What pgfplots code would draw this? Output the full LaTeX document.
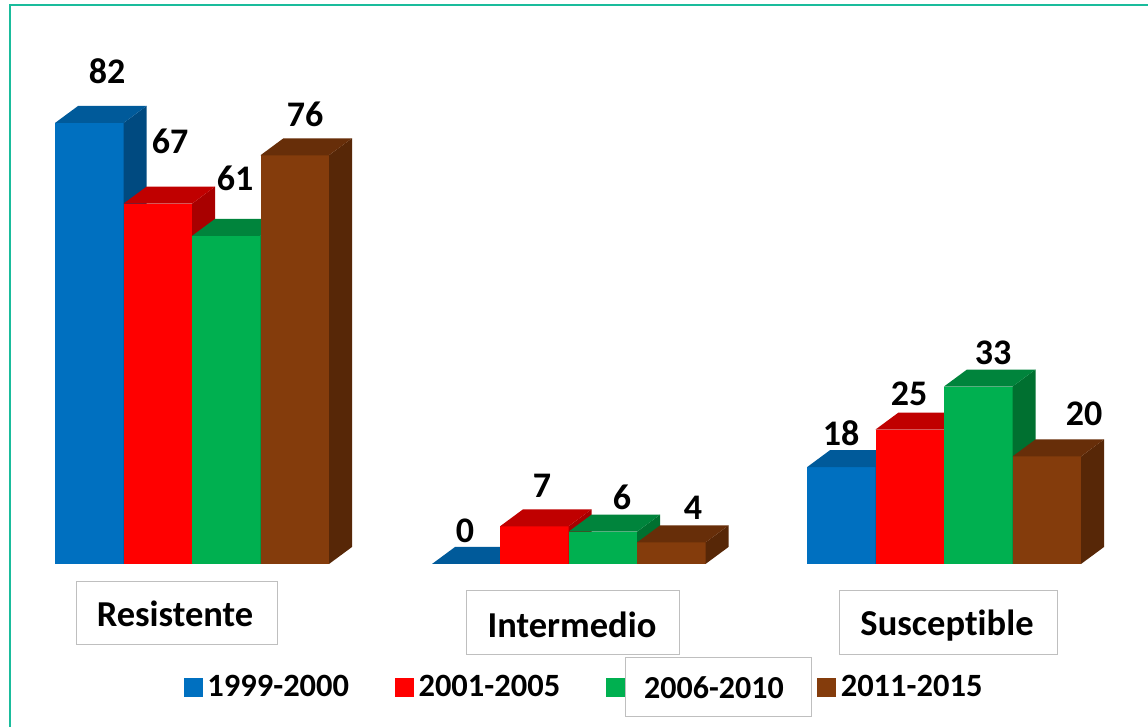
\documentclass[border=0pt]{standalone}
\usepackage{pgfplots}
\pgfplotsset{compat=1.18}
\usepackage{fontspec}
\setmainfont[Ligatures=NoCommon]{Carlito}
\definecolor{bluef}{HTML}{0070C0}\definecolor{bluet}{HTML}{005A9A}\definecolor{blues}{HTML}{004A80}
\definecolor{redf}{HTML}{FF0000}\definecolor{redt}{HTML}{C00000}\definecolor{reds}{HTML}{A80000}
\definecolor{greenf}{HTML}{00B050}\definecolor{greent}{HTML}{00843C}\definecolor{greens}{HTML}{007030}
\definecolor{brownf}{HTML}{843C0C}\definecolor{brownt}{HTML}{672E09}\definecolor{browns}{HTML}{572707}
\definecolor{framec}{HTML}{1ABC9C}
\definecolor{boxc}{HTML}{BFBFBF}
% one 3-D bar: left edge (x), value, colour stem
\newcommand{\tdbar}[3]{%
  \pgfmathsetmacro{\xa}{#1}\pgfmathsetmacro{\xb}{#1+68.5}\pgfmathsetmacro{\xm}{#1+34.25}%
  \pgfmathsetmacro{\xc}{#1+23}\pgfmathsetmacro{\xd}{#1+91.5}\pgfmathsetmacro{\yt}{#2+3.16}%
  \addplot[ybar,bar width=68.5,bar shift=0pt,fill=#3f,draw=none,forget plot] coordinates {(\xm,#2)};
  \addplot[fill=#3s,draw=none,forget plot] coordinates {(\xb,0)(\xb,#2)(\xd,\yt)(\xd,3.16)} -- cycle;
  \addplot[fill=#3t,draw=none,forget plot] coordinates {(\xa,#2)(\xb,#2)(\xd,\yt)(\xc,\yt)} -- cycle;
}
\newcommand{\lab}[3]{\node[font=\bfseries\fontsize{36}{40}\selectfont,inner sep=0pt,text=black] at (#1,727-#2) {#3};}
\begin{document}
\begin{tikzpicture}[x=1pt,y=1pt]
\useasboundingbox (0,0) rectangle (1148,727);
\fill[white] (0,0) rectangle (1148,727);
\draw[framec,line width=2pt] (10,0) -- (10,722) -- (1148,722);
\begin{axis}[
  at={(0pt,0pt)},anchor=south west,
  scale only axis,width=1148pt,height=727pt,
  xmin=0,xmax=1148,ymin=-30.31,ymax=104.87,
  hide axis,clip=false,
  legend columns=4,
  legend cell align=left,
  legend style={at={(axis cs:184,-22.87)},anchor=west,draw=none,fill=none,inner sep=0pt,outer sep=0pt,
    font=\bfseries\fontsize{32.5}{36}\selectfont,
    nodes={inner sep=0pt},
    /tikz/column 2/.style={column sep=46pt},
    /tikz/column 4/.style={column sep=46pt},
    /tikz/column 6/.style={column sep=46pt},
    /tikz/column 1/.style={column sep=5pt},
    /tikz/column 3/.style={column sep=5pt},
    /tikz/column 5/.style={column sep=5pt},
    /tikz/column 7/.style={column sep=5pt}},
  legend image code/.code={\fill[#1] (0pt,-9pt) rectangle (18pt,9pt);},
]
\addlegendimage{bluef}\addlegendentry{1999-2000}
\addlegendimage{redf}\addlegendentry{2001-2005}
\addlegendimage{greenf}\addlegendentry{\phantom{2006-2010}}
\addlegendimage{brownf}\addlegendentry{2011-2015}
% Resistente
\tdbar{55}{82}{blue}
\tdbar{123.5}{67}{red}
\tdbar{192}{61}{green}
\tdbar{260.5}{76}{brown}
% Intermedio
\tdbar{432}{0}{blue}
\tdbar{500}{7}{red}
\tdbar{568.5}{6}{green}
\tdbar{637}{4}{brown}
% Susceptible
\tdbar{807}{18}{blue}
\tdbar{875.5}{25}{red}
\tdbar{944}{33}{green}
\tdbar{1012.5}{20}{brown}
\end{axis}
\lab{107}{71}{82}\lab{170}{141}{67}\lab{235}{178}{61}\lab{305}{114}{76}
\lab{465}{531}{0}\lab{542}{486}{7}\lab{622}{497}{6}\lab{693}{508}{4}
\lab{841}{433}{18}\lab{909}{394}{25}\lab{993}{353}{33}\lab{1084}{414}{20}
\draw[boxc,line width=1pt,fill=white] (76,145.5) rectangle (277,82);
\node[font=\bfseries\fontsize{36.5}{40}\selectfont,inner sep=0pt] at (175,113.5) {Resistente};
\draw[boxc,line width=1pt,fill=white] (466,136.5) rectangle (679,72);
\node[font=\bfseries\fontsize{36.5}{40}\selectfont,inner sep=0pt] at (572,102.5) {Intermedio};
\draw[boxc,line width=1pt,fill=white] (839,136.5) rectangle (1057,72);
\node[font=\bfseries\fontsize{36.5}{40}\selectfont,inner sep=0pt] at (947,101.5) {Susceptible};
\draw[boxc,line width=1pt,fill=white] (625,69) rectangle (811,10);
\node[font=\bfseries\fontsize{32}{36}\selectfont,inner sep=0pt] at (714,39) {2006-2010};
\end{tikzpicture}
\end{document}
